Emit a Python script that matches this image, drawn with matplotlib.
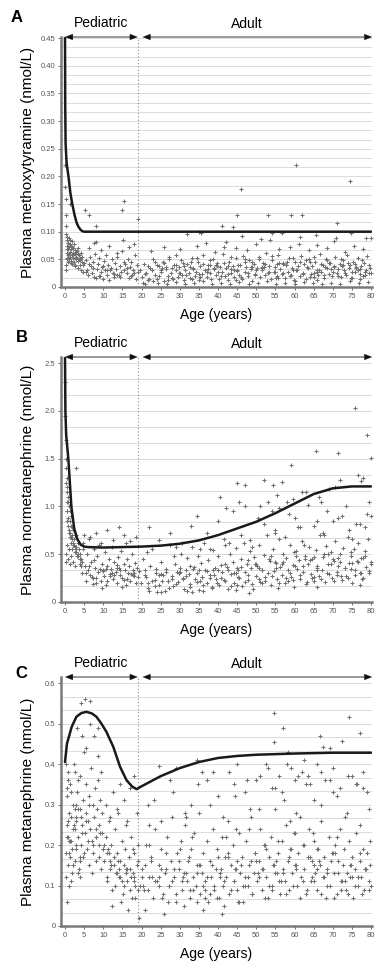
import matplotlib
matplotlib.use("Agg")
import matplotlib.pyplot as plt
import numpy as np

plt.rcParams['font.family'] = ['Liberation Sans', 'DejaVu Sans']

# ---------------- Panel A: methoxytyramine ----------------
A_age = [
    0.1,0.1,0.2,0.2,0.2,0.3,0.3,0.3,0.4,0.4,
    0.5,0.5,0.6,0.7,0.7,0.8,0.9,1.0,1.0,1.1,
    1.2,1.3,1.4,1.5,1.6,1.7,1.8,1.9,2.0,2.1,
    2.2,2.4,2.5,2.6,2.8,3.0,3.1,3.3,3.5,3.6,
    3.8,4.0,4.2,4.4,4.6,4.8,5.0,1.2,
    5.3,5.5,5.8,6.0,6.2,6.5,6.7,7.0,7.2,7.5,
    7.8,8.0,8.3,8.5,8.8,9.0,9.3,9.6,9.9,10.2,
    10.5,10.8,11.0,11.3,11.6,11.9,12.2,12.5,12.8,13.1,
    13.4,13.7,14.0,14.3,14.6,14.9,15.0,15.3,15.5,15.8,
    16.1,16.4,16.7,17.0,17.3,17.6,17.9,18.2,18.5,18.8,
    6.3,7.7,9.5,11.5,13.5,15.2,16.8,18.0,8.1,19.0,
    19.5,20.0,20.6,21.2,21.8,22.3,22.9,23.5,24.0,24.6,
    25.1,25.5,26.0,26.4,26.9,27.3,27.8,28.2,28.6,29.1,
    29.5,29.9,30.3,30.7,31.1,31.5,31.9,32.3,32.7,33.1,
    33.5,33.9,34.3,34.7,35.0,35.4,35.8,36.2,36.6,37.0,
    37.4,37.8,38.2,38.6,39.0,39.4,39.8,40.2,40.6,41.0,
    41.4,41.8,42.2,42.6,43.0,43.4,43.8,44.2,44.6,45.0,
    45.4,45.8,46.2,46.6,47.0,47.4,47.8,48.2,48.6,49.0,
    49.4,49.8,50.2,50.6,51.0,51.4,51.8,52.2,52.6,53.0,
    53.4,53.8,54.2,54.6,55.0,55.4,55.8,56.2,56.6,57.0,
    57.4,57.8,58.2,58.6,59.0,59.4,59.8,60.2,60.6,61.0,
    61.4,61.8,62.2,62.6,63.0,63.4,63.8,64.2,64.6,65.0,
    65.4,65.8,66.2,66.6,67.0,67.4,67.8,68.2,68.6,69.0,
    69.4,69.8,70.2,70.6,71.0,71.4,71.8,72.2,72.6,73.0,
    73.4,73.8,74.2,74.6,75.0,75.4,75.8,76.2,76.6,77.0,
    77.4,77.8,78.2,78.6,79.0,79.4,79.8,20.3,23.0,27.0,
    21.0,24.3,26.6,28.9,31.3,33.7,36.0,38.4,40.8,43.2,
    45.6,48.0,50.4,52.8,55.2,57.6,60.0,62.4,64.8,67.2,
    69.6,72.0,74.4,76.8,79.2,22.5,25.8,30.0,34.5,39.2,
    42.0,44.8,47.5,50.0,53.5,56.0,58.8,61.5,63.7,66.0,
    68.4,70.8,73.2,75.6,78.0,32.0,36.8,41.6,46.4,51.2,
    56.8,61.2,65.6,70.2,74.8,78.8,29.0,35.5,44.0,54.0,
    45.0,46.0,53.0,59.0,60.5,62.0,71.0,74.6,41.0,35.0,
    38.0,43.5,49.0,52.0,57.0,63.0,66.5,69.0,72.5,76.0,
    78.5,24.0,28.0,33.0,37.5,42.5,47.0,51.5,55.5,59.5,
    64.0,68.0,72.8,77.2,80.0,26.0,31.0,39.6,48.5,58.0,
    0.5,1.0,1.5,2.0,2.5,3.0,3.5,4.0,4.5,0.8,
    1.8,2.8,3.8,1.3,2.3,3.3,4.3,0.6,1.6,2.6,
    5.6,7.3,9.1,10.9,12.7,14.5,16.3,18.1,6.4,8.2,
    10.0,11.8,13.6,15.4,17.2,19.0,20.9,22.7,24.5,26.3,
    28.1,29.9,31.7,33.5,35.3,37.1,38.9,40.7,42.5,44.3,
    46.1,47.9,49.7,51.5,53.3,55.1,56.9,58.7,60.5,62.3,
    64.1,65.9,67.7,69.5,71.3,73.1,74.9,76.7,78.5,80.0,
    21.6,23.6,25.4,27.2,29.0,30.8,32.6,34.4,36.2,38.0,
    39.8,41.6,43.4,45.2,47.0,48.8,50.6,52.4,54.2,56.0,
    57.8,59.6,61.4,63.2,65.0,66.8,68.6,70.4,72.2,74.0,
    75.8,77.6,79.4,22.0,33.2,44.6,55.8,66.0,77.0,60.0,
    40.0,50.0,70.0,30.0,25.0,35.0,45.0,55.0,65.0,75.0,
]
A_val = [
    0.220,0.180,0.160,0.130,0.040,0.110,0.095,0.030,0.085,0.062,
    0.075,0.052,0.090,0.068,0.045,0.080,0.058,0.072,0.050,0.088,
    0.064,0.055,0.078,0.047,0.069,0.058,0.083,0.041,0.062,0.053,
    0.070,0.046,0.060,0.038,0.055,0.050,0.065,0.035,0.047,0.058,
    0.040,0.052,0.031,0.045,0.039,0.028,0.043,0.150,
    0.140,0.048,0.030,0.022,0.130,0.055,0.038,0.025,0.045,0.018,
    0.060,0.110,0.033,0.042,0.020,0.052,0.028,0.036,0.015,0.047,
    0.030,0.058,0.022,0.040,0.012,0.035,0.050,0.026,0.018,0.044,
    0.032,0.055,0.021,0.038,0.028,0.065,0.140,0.030,0.155,0.042,
    0.025,0.050,0.016,0.036,0.045,0.022,0.031,0.058,0.014,0.040,
    0.070,0.080,0.066,0.075,0.062,0.085,0.072,0.078,0.082,0.123,
    0.030,0.018,0.042,0.025,0.012,0.035,0.050,0.022,0.015,0.038,
    0.028,0.045,0.010,0.032,0.020,0.055,0.026,0.014,0.040,0.030,
    0.018,0.036,0.048,0.022,0.012,0.030,0.042,0.025,0.016,0.052,
    0.034,0.020,0.028,0.045,0.012,0.038,0.024,0.058,0.030,0.018,
    0.040,0.026,0.014,0.050,0.032,0.022,0.044,0.015,0.036,0.028,
    0.060,0.020,0.034,0.012,0.046,0.026,0.038,0.018,0.052,0.030,
    0.022,0.040,0.014,0.056,0.028,0.036,0.020,0.048,0.032,0.010,
    0.042,0.024,0.034,0.054,0.018,0.030,0.044,0.022,0.062,0.026,
    0.038,0.014,0.048,0.028,0.036,0.020,0.058,0.032,0.024,0.044,
    0.016,0.040,0.028,0.052,0.022,0.034,0.012,0.046,0.030,0.038,
    0.020,0.056,0.026,0.042,0.014,0.034,0.050,0.024,0.038,0.018,
    0.046,0.030,0.022,0.060,0.028,0.040,0.016,0.050,0.034,0.024,
    0.044,0.020,0.036,0.054,0.026,0.032,0.042,0.018,0.048,0.030,
    0.022,0.058,0.034,0.040,0.016,0.046,0.028,0.036,0.052,0.024,
    0.038,0.020,0.044,0.030,0.056,0.026,0.034,0.008,0.010,0.012,
    0.005,0.008,0.006,0.009,0.005,0.007,0.010,0.006,0.008,0.005,
    0.009,0.006,0.007,0.010,0.005,0.008,0.006,0.009,0.007,0.005,
    0.008,0.006,0.010,0.007,0.009,0.065,0.072,0.068,0.075,0.064,
    0.082,0.070,0.066,0.078,0.085,0.068,0.072,0.090,0.066,0.076,
    0.070,0.088,0.064,0.074,0.068,0.095,0.080,0.072,0.092,0.086,
    0.098,0.078,0.094,0.084,0.098,0.088,0.058,0.098,0.108,0.098,
    0.130,0.178,0.130,0.130,0.220,0.130,0.115,0.192,0.110,0.100,
    0.040,0.032,0.045,0.036,0.042,0.048,0.030,0.044,0.038,0.034,
    0.028,0.040,0.034,0.046,0.032,0.038,0.050,0.036,0.042,0.030,
    0.046,0.036,0.040,0.032,0.088,0.044,0.038,0.040,0.036,0.046,
    0.068,0.060,0.074,0.057,0.066,0.052,0.060,0.048,0.055,0.080,
    0.072,0.063,0.051,0.085,0.078,0.070,0.062,0.050,0.043,0.040,
    0.028,0.035,0.020,0.030,0.024,0.018,0.034,0.026,0.041,0.016,
    0.038,0.030,0.022,0.046,0.019,0.028,0.024,0.030,0.020,0.036,
    0.016,0.026,0.022,0.032,0.018,0.028,0.034,0.020,0.024,0.030,
    0.018,0.026,0.022,0.034,0.028,0.016,0.026,0.020,0.030,0.024,
    0.018,0.028,0.022,0.032,0.020,0.026,0.016,0.030,0.022,0.026,
    0.038,0.046,0.034,0.050,0.040,0.044,0.036,0.052,0.042,0.048,
    0.038,0.044,0.054,0.040,0.046,0.036,0.050,0.042,0.056,0.044,
    0.040,0.052,0.046,0.036,0.054,0.042,0.048,0.038,0.050,0.044,
    0.042,0.048,0.040,0.015,0.014,0.012,0.016,0.013,0.015,0.011,
    0.028,0.030,0.027,0.026,0.031,0.024,0.029,0.027,0.025,0.028,
]
A_curve_age = [0.0, 0.05, 0.15, 0.4, 0.9, 1.4, 1.9, 2.5, 3.0, 3.5, 4.0, 4.5, 5.0, 80.0]
A_curve_val = [0.452, 0.33, 0.26, 0.225, 0.20, 0.17, 0.15, 0.13, 0.117, 0.109, 0.104, 0.101, 0.100, 0.100]

# ---------------- Panel B: normetanephrine ----------------
B_age = [
    0.1,0.1,0.2,0.2,0.3,0.3,0.4,0.4,0.5,0.5,
    0.6,0.7,0.8,0.9,1.0,1.1,1.2,1.3,1.4,1.5,
    1.6,1.7,1.8,1.9,2.0,2.2,2.4,2.6,2.8,3.0,
    3.2,3.4,3.6,3.8,4.0,0.2,0.3,0.6,0.8,1.0,
    1.2,1.5,2.1,2.5,2.8,
    4.2,4.5,4.8,5.1,5.4,5.7,6.0,6.3,6.6,6.9,
    7.2,7.5,7.8,8.1,8.4,8.7,9.0,9.3,9.6,9.9,
    10.2,10.5,10.8,11.1,11.4,11.7,12.0,12.3,12.6,12.9,
    13.2,13.5,13.8,14.1,14.4,14.7,15.0,15.3,15.6,15.9,
    16.2,16.5,16.8,17.1,17.4,17.7,18.0,18.3,18.6,18.9,
    5.0,6.5,8.0,9.5,11.0,12.5,14.0,15.5,17.0,18.5,
    4.6,7.0,9.8,12.2,14.8,16.0,7.6,10.6,13.6,17.8,
    19.4,19.9,20.5,21.1,21.7,22.2,22.8,23.4,23.9,24.5,
    25.0,25.6,26.1,26.5,27.0,27.4,27.9,28.3,28.7,29.2,
    29.6,30.0,30.4,30.8,31.2,31.6,32.0,32.4,32.8,33.2,
    33.6,34.0,34.4,34.8,35.1,35.5,35.9,36.3,36.7,37.1,
    37.5,37.9,38.3,38.7,39.1,39.5,39.9,40.3,40.7,41.1,
    41.5,41.9,42.3,42.7,43.1,43.5,43.9,44.3,44.7,45.1,
    45.5,45.9,46.3,46.7,47.1,47.5,47.9,48.3,48.7,49.1,
    49.5,49.9,50.3,50.7,51.1,51.5,51.9,52.3,52.7,53.1,
    53.5,53.9,54.3,54.7,55.1,55.5,55.9,56.3,56.7,57.1,
    57.5,57.9,58.3,58.7,59.1,59.5,59.9,60.3,60.7,61.1,
    61.5,61.9,62.3,62.7,63.1,63.5,63.9,64.3,64.7,65.1,
    65.5,65.9,66.3,66.7,67.1,67.5,67.9,68.3,68.7,69.1,
    69.5,69.9,70.3,70.7,71.1,71.5,71.9,72.3,72.7,73.1,
    73.5,73.9,74.3,74.7,75.1,75.5,75.9,76.3,76.7,77.1,
    77.5,77.9,78.3,78.7,79.1,79.5,79.9,24.0,36.0,48.0,
    20.8,23.8,26.8,29.8,32.8,35.8,38.8,41.8,44.8,47.8,
    50.8,53.8,56.8,59.8,62.8,65.8,68.8,71.8,74.8,77.8,
    21.5,25.2,28.5,31.8,35.2,38.5,41.7,45.0,48.4,51.6,
    54.9,58.2,61.4,64.6,67.8,71.0,74.2,77.4,22.0,27.5,
    33.0,38.0,43.0,46.0,49.0,52.0,55.0,57.5,60.0,62.5,
    65.0,67.5,70.0,72.5,75.0,77.0,79.0,30.5,34.5,40.0,
    44.0,47.0,50.5,53.0,56.0,58.5,61.0,63.5,66.0,68.5,
    71.5,73.5,76.0,78.5,80.0,24.5,29.0,37.0,
    45.0,47.0,52.0,56.6,54.4,59.0,63.0,69.0,77.4,78.0,
    80.0,76.7,71.4,78.9,75.9,65.7,42.0,40.5,45.5,51.0,
    55.5,59.5,62.0,67.0,70.5,72.0,54.0,58.0,66.5,79.5,
    0.5,1.0,1.5,2.0,2.5,3.0,3.5,4.0,4.5,0.8,
    1.8,2.8,3.8,1.3,2.3,3.3,4.3,0.6,1.6,2.6,
    5.6,7.3,9.1,10.9,12.7,14.5,16.3,18.1,6.4,8.2,
    10.0,11.8,13.6,15.4,17.2,19.0,20.9,22.7,24.5,26.3,
    28.1,29.9,31.7,33.5,35.3,37.1,38.9,40.7,42.5,44.3,
    46.1,47.9,49.7,51.5,53.3,55.1,56.9,58.7,60.5,62.3,
    64.1,65.9,67.7,69.5,71.3,73.1,74.9,76.7,78.5,80.0,
    21.6,23.6,25.4,27.2,29.0,30.8,32.6,34.4,36.2,38.0,
    39.8,41.6,43.4,45.2,47.0,48.8,50.6,52.4,54.2,56.0,
    57.8,59.6,61.4,63.2,65.0,66.8,68.6,70.4,72.2,74.0,
    75.8,77.6,79.4,22.0,33.2,44.6,55.8,66.0,77.0,60.0,
    40.0,50.0,70.0,30.0,25.0,35.0,45.0,55.0,65.0,75.0,
]
B_val = [
    2.30,1.95,1.70,1.50,1.40,1.25,1.15,1.30,1.05,0.95,
    1.20,0.88,1.10,0.80,1.00,0.72,0.95,0.85,0.68,0.90,
    0.62,0.78,0.70,0.55,0.75,0.60,0.66,0.52,0.58,0.70,
    0.48,0.62,0.55,0.45,0.50,0.50,0.42,0.60,0.45,0.55,
    0.40,0.48,0.42,0.38,1.40,
    0.45,0.30,0.62,0.38,0.22,0.50,0.33,0.66,0.28,0.42,
    0.19,0.55,0.36,0.25,0.48,0.31,0.60,0.22,0.40,0.34,
    0.27,0.52,0.18,0.38,0.45,0.29,0.35,0.58,0.24,0.42,
    0.31,0.20,0.47,0.36,0.28,0.53,0.25,0.40,0.33,0.18,
    0.45,0.30,0.38,0.22,0.50,0.34,0.27,0.41,0.20,0.36,
    0.70,0.68,0.72,0.62,0.75,0.65,0.78,0.70,0.64,0.68,
    0.55,0.26,0.15,0.30,0.16,0.62,0.44,0.35,0.39,0.28,
    0.32,0.20,0.45,0.26,0.15,0.38,0.55,0.23,0.30,0.18,
    0.42,0.28,0.12,0.35,0.22,0.60,0.27,0.17,0.40,0.31,
    0.21,0.36,0.50,0.25,0.14,0.33,0.46,0.29,0.19,0.58,
    0.37,0.24,0.30,0.48,0.13,0.41,0.26,0.62,0.34,0.20,
    0.44,0.28,0.16,0.54,0.36,0.24,0.48,0.18,0.39,0.31,
    0.66,0.22,0.37,0.14,0.50,0.29,0.42,0.20,0.57,0.33,
    0.25,0.45,0.17,0.62,0.31,0.40,0.23,0.53,0.36,0.14,
    0.47,0.27,0.38,0.60,0.21,0.34,0.49,0.26,0.70,0.30,
    0.43,0.18,0.55,0.32,0.41,0.24,0.66,0.37,0.28,0.50,
    0.20,0.46,0.33,0.60,0.26,0.39,0.16,0.53,0.35,0.44,
    0.24,0.64,0.31,0.48,0.19,0.40,0.58,0.29,0.45,0.22,
    0.54,0.36,0.27,0.70,0.33,0.47,0.21,0.59,0.40,0.29,
    0.52,0.25,0.43,0.64,0.31,0.38,0.50,0.23,0.57,0.36,
    0.27,0.68,0.41,0.48,0.20,0.55,0.34,0.43,0.62,0.30,
    0.46,0.25,0.53,0.37,0.66,0.32,0.42,0.10,0.12,0.09,
    0.28,0.35,0.22,0.30,0.38,0.26,0.33,0.40,0.30,0.44,
    0.36,0.48,0.40,0.52,0.45,0.38,0.50,0.42,0.35,0.46,
    0.52,0.10,0.48,0.12,0.55,0.15,0.60,0.18,0.65,0.20,
    0.72,0.22,0.78,0.25,0.70,0.28,0.75,0.30,0.78,0.72,
    0.80,0.55,0.62,0.70,0.58,0.82,0.75,0.68,0.88,0.60,
    0.80,0.72,0.85,0.90,0.66,0.82,0.92,0.62,0.90,0.85,
    0.95,1.00,0.88,1.05,0.98,0.92,0.78,1.02,0.85,0.95,
    0.88,1.00,0.82,0.78,0.90,0.65,0.58,0.72,
    1.25,1.23,1.28,1.26,1.22,1.43,1.15,1.18,1.27,1.30,
    1.51,1.33,1.56,1.75,2.03,1.58,0.98,1.10,1.05,1.00,
    1.12,1.08,1.15,1.05,1.20,1.28,0.95,1.05,1.10,1.05,
    0.85,0.75,0.68,0.62,0.58,0.52,0.48,0.45,0.42,1.05,
    0.66,0.55,0.40,0.72,0.60,0.50,0.38,0.95,0.80,0.70,
    0.30,0.25,0.35,0.22,0.28,0.33,0.24,0.30,0.38,0.20,
    0.32,0.27,0.36,0.23,0.29,0.26,0.34,0.22,0.28,0.31,
    0.24,0.30,0.27,0.35,0.22,0.32,0.28,0.25,0.34,0.30,
    0.37,0.28,0.40,0.33,0.45,0.36,0.42,0.30,0.48,0.38,
    0.44,0.34,0.50,0.40,0.46,0.36,0.52,0.42,0.48,0.40,
    0.20,0.17,0.22,0.15,0.19,0.24,0.16,0.21,0.18,0.25,
    0.20,0.23,0.17,0.26,0.21,0.19,0.24,0.22,0.27,0.20,
    0.25,0.23,0.28,0.21,0.26,0.24,0.30,0.22,0.27,0.25,
    0.28,0.24,0.30,0.12,0.10,0.13,0.15,0.16,0.18,0.38,
    0.34,0.40,0.45,0.31,0.29,0.33,0.36,0.42,0.47,0.41,
]
B_curve_age = [0.0, 0.1, 0.3, 0.87, 1.66, 2.4, 3.2, 4.1, 5.0, 6, 10, 15, 20, 25, 30, 35, 40, 45, 50, 55, 60, 65, 70, 75, 80]
B_curve_val = [2.565, 2.0, 1.75, 1.5, 1.0, 0.77, 0.66, 0.60, 0.58, 0.575, 0.57, 0.575, 0.58, 0.59, 0.61, 0.645, 0.70, 0.77, 0.84, 0.93, 1.03, 1.13, 1.19, 1.21, 1.21]

# ---------------- Panel C: metanephrine ----------------
C_age = [
    0.2,0.3,0.4,0.5,0.6,0.7,0.8,0.9,1.0,1.1,
    1.2,1.4,1.6,1.8,2.0,2.2,2.4,2.6,2.8,3.0,
    3.2,3.4,3.6,3.8,4.0,4.2,4.4,4.6,4.8,5.0,
    5.2,5.4,5.6,5.8,6.0,6.2,6.4,6.6,6.8,7.0,
    7.2,7.4,7.6,7.8,8.0,8.2,8.4,8.6,8.8,9.0,
    9.2,9.4,9.6,9.8,10.0,0.3,0.8,1.5,2.5,3.5,
    4.5,5.5,6.5,7.5,8.5,9.5,1.0,2.0,3.0,4.0,
    5.0,6.0,7.0,8.0,9.0,4.3,5.2,6.5,3.1,8.6,
    10.3,10.6,10.9,11.2,11.5,11.8,12.1,12.4,12.7,13.0,
    13.3,13.6,13.9,14.2,14.5,14.8,15.1,15.4,15.7,16.0,
    16.3,16.6,16.9,17.2,17.5,17.8,18.1,18.4,18.7,19.0,
    10.8,11.7,12.6,13.5,14.4,15.3,16.2,17.1,18.0,18.9,
    11.0,12.0,13.0,14.0,15.0,16.0,17.0,18.0,19.0,19.5,
    12.3,14.7,16.5,18.3,11.4,13.8,15.9,17.7,10.1,19.3,
    20.2,20.7,21.3,21.9,22.4,23.0,23.6,24.1,24.7,25.2,
    25.7,26.2,26.7,27.1,27.6,28.0,28.5,28.9,29.3,29.8,
    30.2,30.6,31.0,31.4,31.8,32.2,32.6,33.0,33.4,33.8,
    34.2,34.6,35.0,35.4,35.8,36.2,36.6,37.0,37.4,37.8,
    38.2,38.6,39.0,39.4,39.8,40.2,40.6,41.0,41.4,41.8,
    42.2,42.6,43.0,43.4,43.8,44.2,44.6,45.0,45.4,45.8,
    46.2,46.6,47.0,47.4,47.8,48.2,48.6,49.0,49.4,49.8,
    50.2,50.6,51.0,51.4,51.8,52.2,52.6,53.0,53.4,53.8,
    54.2,54.6,55.0,55.4,55.8,56.2,56.6,57.0,57.4,57.8,
    58.2,58.6,59.0,59.4,59.8,60.2,60.6,61.0,61.4,61.8,
    62.2,62.6,63.0,63.4,63.8,64.2,64.6,65.0,65.4,65.8,
    66.2,66.6,67.0,67.4,67.8,68.2,68.6,69.0,69.4,69.8,
    70.2,70.6,71.0,71.4,71.8,72.2,72.6,73.0,73.4,73.8,
    74.2,74.6,75.0,75.4,75.8,76.2,76.6,77.0,77.4,77.8,
    78.2,78.6,79.0,79.4,79.8,21.0,26.0,31.0,36.0,41.0,
    20.5,22.5,24.5,26.5,28.5,30.5,32.5,34.5,36.5,38.5,
    40.5,42.5,44.5,46.5,48.5,50.5,52.5,54.5,56.5,58.5,
    60.5,62.5,64.5,66.5,68.5,70.5,72.5,74.5,76.5,78.5,
    21.8,25.0,28.2,31.5,34.8,38.0,41.2,44.4,47.6,50.8,
    54.0,57.2,60.4,63.6,66.8,70.0,73.2,76.4,79.6,23.2,
    27.4,31.6,35.8,40.0,44.2,48.4,52.6,56.8,61.0,65.2,
    69.4,73.6,77.8,29.0,33.0,37.0,43.0,47.0,51.0,55.0,
    59.0,63.0,67.0,71.0,75.0,79.0,24.7,34.4,38.8,45.0,
    50.0,53.0,56.0,58.0,60.0,62.0,64.0,66.0,68.0,70.0,
    72.0,74.0,76.0,78.0,54.7,57.0,54.7,74.3,77.1,66.7,
    67.5,69.2,72.5,58.2,62.5,49.0,45.5,41.5,36.5,27.0,
    20.0,22.0,42.0,48.0,52.0,58.8,64.8,71.2,77.2,79.8,
    0.5,1.0,1.5,2.0,2.5,3.0,3.5,4.0,4.5,0.8,
    1.8,2.8,3.8,1.3,2.3,3.3,4.3,0.6,1.6,2.6,
    5.6,7.3,9.1,10.9,12.7,14.5,16.3,18.1,6.4,8.2,
    10.0,11.8,13.6,15.4,17.2,19.0,20.9,22.7,24.5,26.3,
    28.1,29.9,31.7,33.5,35.3,37.1,38.9,40.7,42.5,44.3,
    46.1,47.9,49.7,51.5,53.3,55.1,56.9,58.7,60.5,62.3,
    64.1,65.9,67.7,69.5,71.3,73.1,74.9,76.7,78.5,80.0,
    21.6,23.6,25.4,27.2,29.0,30.8,32.6,34.4,36.2,38.0,
    39.8,41.6,43.4,45.2,47.0,48.8,50.6,52.4,54.2,56.0,
    57.8,59.6,61.4,63.2,65.0,66.8,68.6,70.4,72.2,74.0,
    75.8,77.6,79.4,22.0,33.2,44.6,55.8,66.0,77.0,60.0,
    40.0,50.0,70.0,30.0,25.0,35.0,45.0,55.0,65.0,75.0,
]
C_val = [
    0.18,0.12,0.25,0.06,0.32,0.15,0.22,0.38,0.10,0.28,
    0.17,0.35,0.21,0.13,0.30,0.24,0.40,0.16,0.27,0.19,
    0.33,0.22,0.14,0.29,0.37,0.20,0.25,0.31,0.17,0.43,
    0.23,0.28,0.35,0.19,0.26,0.32,0.15,0.24,0.39,0.21,
    0.30,0.18,0.27,0.34,0.22,0.16,0.29,0.36,0.20,0.25,
    0.31,0.14,0.23,0.28,0.19,0.40,0.36,0.33,0.38,0.36,
    0.47,0.44,0.50,0.47,0.42,0.38,0.21,0.15,0.26,0.12,
    0.18,0.21,0.13,0.24,0.17,0.55,0.56,0.556,0.49,0.49,
    0.16,0.22,0.11,0.19,0.26,0.14,0.20,0.09,0.17,0.24,
    0.13,0.18,0.28,0.12,0.16,0.21,0.08,0.15,0.19,0.25,
    0.11,0.17,0.14,0.22,0.07,0.13,0.18,0.10,0.15,0.20,
    0.30,0.27,0.33,0.29,0.35,0.31,0.26,0.34,0.37,0.28,
    0.12,0.15,0.10,0.14,0.11,0.13,0.09,0.12,0.16,0.10,
    0.05,0.06,0.04,0.07,0.18,0.16,0.14,0.19,0.20,0.02,
    0.14,0.09,0.20,0.12,0.17,0.07,0.24,0.11,0.15,0.19,
    0.08,0.13,0.22,0.10,0.16,0.27,0.12,0.06,0.18,0.14,
    0.21,0.09,0.13,0.25,0.11,0.16,0.07,0.19,0.12,0.23,
    0.10,0.15,0.28,0.08,0.13,0.18,0.11,0.21,0.06,0.16,
    0.12,0.24,0.09,0.14,0.19,0.07,0.13,0.22,0.10,0.17,
    0.12,0.26,0.08,0.15,0.20,0.11,0.14,0.09,0.23,0.13,
    0.17,0.06,0.12,0.21,0.10,0.15,0.27,0.08,0.13,0.18,
    0.11,0.16,0.24,0.09,0.14,0.20,0.12,0.07,0.17,0.22,
    0.10,0.15,0.29,0.13,0.18,0.08,0.21,0.14,0.11,0.25,
    0.16,0.09,0.19,0.13,0.23,0.15,0.10,0.18,0.27,0.12,
    0.20,0.14,0.08,0.17,0.24,0.11,0.16,0.21,0.13,0.09,
    0.19,0.15,0.26,0.12,0.17,0.07,0.14,0.22,0.10,0.18,
    0.13,0.20,0.08,0.16,0.24,0.11,0.15,0.19,0.09,0.13,
    0.21,0.12,0.17,0.07,0.14,0.23,0.10,0.16,0.12,0.19,
    0.09,0.14,0.18,0.11,0.15,0.04,0.03,0.05,0.04,0.03,
    0.10,0.16,0.12,0.18,0.14,0.11,0.17,0.13,0.09,0.15,
    0.12,0.18,0.14,0.10,0.16,0.13,0.19,0.15,0.11,0.17,
    0.14,0.20,0.12,0.16,0.13,0.18,0.11,0.15,0.12,0.14,
    0.30,0.26,0.33,0.28,0.35,0.30,0.27,0.32,0.36,0.29,
    0.34,0.31,0.28,0.37,0.30,0.33,0.27,0.35,0.29,0.31,
    0.36,0.27,0.38,0.32,0.35,0.29,0.40,0.33,0.37,0.31,
    0.36,0.28,0.34,0.39,0.30,0.36,0.38,0.33,0.37,0.34,
    0.39,0.35,0.38,0.32,0.37,0.33,0.395,0.41,0.38,0.40,
    0.36,0.39,0.37,0.40,0.36,0.38,0.35,0.40,0.36,0.39,
    0.34,0.37,0.35,0.38,0.527,0.488,0.455,0.515,0.477,0.469,
    0.443,0.44,0.457,0.43,0.41,0.08,0.06,0.05,0.07,0.06,
    0.12,0.25,0.22,0.24,0.20,0.26,0.23,0.22,0.25,0.21,
    0.22,0.18,0.27,0.15,0.24,0.20,0.29,0.17,0.23,0.26,
    0.19,0.30,0.16,0.21,0.25,0.13,0.27,0.34,0.11,0.29,
    0.26,0.20,0.23,0.18,0.15,0.12,0.14,0.11,0.30,0.22,
    0.19,0.16,0.13,0.10,0.12,0.09,0.15,0.12,0.10,0.14,
    0.11,0.16,0.13,0.09,0.15,0.12,0.10,0.14,0.17,0.11,
    0.15,0.12,0.18,0.14,0.10,0.16,0.13,0.19,0.15,0.11,
    0.17,0.14,0.12,0.16,0.13,0.11,0.15,0.12,0.14,0.10,
    0.09,0.11,0.07,0.10,0.08,0.12,0.09,0.06,0.10,0.08,
    0.07,0.11,0.09,0.06,0.10,0.08,0.12,0.07,0.09,0.11,
    0.08,0.10,0.07,0.09,0.11,0.08,0.10,0.07,0.09,0.08,
    0.10,0.08,0.09,0.20,0.22,0.24,0.21,0.19,0.18,0.23,
    0.17,0.16,0.18,0.19,0.14,0.15,0.16,0.13,0.15,0.12,
]
C_curve_age = [0, 0.5, 1.75, 3, 4.3, 5.6, 7, 8.2, 9.5, 10.8, 12.6, 14.4, 16.1, 17.5, 18.7, 20, 22.2, 25, 30, 35, 40, 45, 50, 60, 70, 80]
C_curve_val = [0.405, 0.45, 0.492, 0.517, 0.526, 0.529, 0.525, 0.517, 0.50, 0.48, 0.443, 0.393, 0.36, 0.345, 0.338, 0.345, 0.356, 0.370, 0.39, 0.405, 0.415, 0.42, 0.423, 0.426, 0.428, 0.428]

panels = [
    dict(letter='A', age=A_age, val=A_val, cage=A_curve_age, cval=A_curve_val,
         ymax=0.452, major=0.05, fmt=lambda v: '0' if v == 0 else f'{v:.2f}',
         ylabel='Plasma methoxytyramine (nmol/L)', top_px=37, bot_px=287, letter_xy=(17, 18)),
    dict(letter='B', age=B_age, val=B_val, cage=B_curve_age, cval=B_curve_val,
         ymax=2.565, major=0.5, fmt=lambda v: '0' if v == 0 else f'{v:.1f}',
         ylabel='Plasma normetanephrine (nmol/L)', top_px=357, bot_px=602, letter_xy=(22, 338)),
    dict(letter='C', age=C_age, val=C_val, cage=C_curve_age, cval=C_curve_val,
         ymax=0.615, major=0.1, fmt=lambda v: '0' if v == 0 else f'{v:.1f}',
         ylabel='Plasma metanephrine (nmol/L)', top_px=677, bot_px=926, letter_xy=(21, 673)),
]

W, H = 380, 969
fig = plt.figure(figsize=(W / 100, H / 100), dpi=100)
left_px, right_px = 61, 372
xmin, xmax = -1.05, 80.26
spine_col = '#7a7a7a'

for p in panels:
    hpx = p['bot_px'] - p['top_px']
    ax = fig.add_axes([left_px / W, 1 - p['bot_px'] / H,
                       (right_px - left_px) / W, hpx / H])
    ax.set_xlim(xmin, xmax)
    ax.set_ylim(0, p['ymax'])
    minor = p['major'] / 3
    nlines = int(np.floor(p['ymax'] / minor + 1e-6))
    for k in range(1, nlines + 1):
        ax.axhline(k * minor, color='#d6d6d6', lw=0.6, zorder=0)
    ax.axvline(19, color='#8a8a8a', lw=0.8, ls=(0, (1, 2)), zorder=1)
    ax.scatter(p['age'], p['val'], s=9, c='#707070', marker='+', linewidths=0.75,
               zorder=2, clip_on=False)
    ax.plot(p['cage'], p['cval'], color='#1a1a1a', lw=1.8, zorder=3, solid_capstyle='round')

    for s in ['top', 'right']:
        ax.spines[s].set_visible(False)
    for s in ['left', 'bottom']:
        ax.spines[s].set_color(spine_col)
        ax.spines[s].set_linewidth(1.8)

    ax.set_xticks(np.arange(0, 81, 5))
    yt = np.arange(0, p['ymax'] + 1e-9, p['major'])
    ax.set_yticks(yt)
    ax.set_yticklabels([p['fmt'](round(v, 3)) for v in yt])
    ax.tick_params(axis='both', labelsize=5.5, length=2, width=0.6, colors='#555555', pad=2)
    ax.set_xlabel('Age (years)', fontsize=10)
    ax.xaxis.set_label_coords(0.5, -21 / hpx)
    ax.set_ylabel(p['ylabel'], fontsize=11)
    ax.yaxis.set_label_coords(-0.085, 0.5)

    ytop = p['ymax']
    for x0, x1 in [(0.0, 19.0), (20.3, 80.3)]:
        ax.plot([x0 + 1, x1 - 1], [ytop, ytop], color='#9a9a9a', lw=1.4,
                clip_on=False, zorder=5, solid_capstyle='butt')
        for tail, tip in [(x0 + 2.5, x0), (x1 - 2.5, x1)]:
            ax.annotate('', xy=(tip, ytop), xytext=(tail, ytop),
                        arrowprops=dict(arrowstyle='-|>,head_length=0.55,head_width=0.22',
                                        color='#111111', lw=0.1, shrinkA=0, shrinkB=0),
                        annotation_clip=False, zorder=6)
    ax.annotate('Pediatric', xy=(9.3, ytop), xytext=(0, 10), textcoords='offset points',
                ha='center', va='center', fontsize=10, annotation_clip=False)
    ax.annotate('Adult', xy=(47.6, ytop), xytext=(0, 9), textcoords='offset points',
                ha='center', va='center', fontsize=10, annotation_clip=False)

    fig.text(p['letter_xy'][0] / W, 1 - p['letter_xy'][1] / H, p['letter'],
             fontsize=12, fontweight='bold', ha='center', va='center')

fig.savefig('out.png', dpi=100)
